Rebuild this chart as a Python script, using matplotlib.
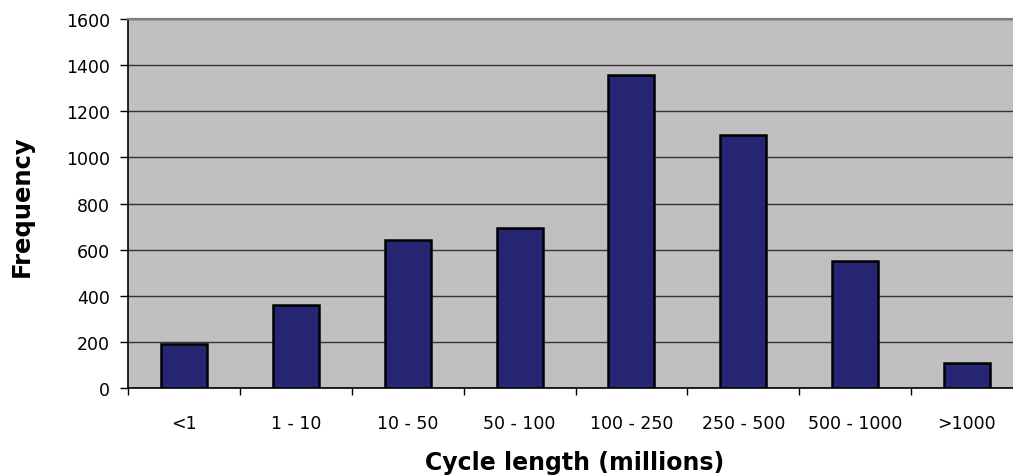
import matplotlib
matplotlib.use("Agg")
import matplotlib.pyplot as plt
import numpy as np

categories = ["<1", "1 - 10", "10 - 50", "50 - 100", "100 - 250", "250 - 500", "500 - 1000", ">1000"]
frequency = [189, 358, 642, 692, 1357, 1099, 551, 107]
y_ticks = [0, 200, 400, 600, 800, 1000, 1200, 1400, 1600]

plt.rcParams["font.family"] = ["DejaVu Sans"]

W, H = 1013, 477
fig = plt.figure(figsize=(W / 100, H / 100), dpi=100)
# plot area runs slightly past the right edge of the figure
left, right, top, bottom = 128.3, 1022.7, 20, 389
ax = fig.add_axes([left / W, (H - bottom) / H, (right - left) / W, (bottom - top) / H])
ax.set_facecolor("#C0C0C0")

x = np.arange(len(categories))
ax.bar(x, frequency, width=0.41, color="#262672", edgecolor="black", linewidth=1.8, zorder=3)

ax.set_xlim(-0.5, len(categories) - 0.5)
ax.set_ylim(0, 1600)
ax.set_yticks(y_ticks)
ax.set_yticklabels([str(v) for v in y_ticks], fontsize=12.5)
ax.yaxis.grid(True, color="#333333", linewidth=1.0, zorder=1)
ax.set_axisbelow(True)

# category labels centred in each slot, tick marks at slot boundaries
ax.set_xticks(np.arange(len(categories) + 1) - 0.5)
ax.set_xticklabels([])
ax.set_xticks(x, minor=True)
ax.set_xticklabels(categories, minor=True, fontsize=12.5)
ax.tick_params(axis="x", which="minor", length=0, pad=19)
ax.tick_params(axis="x", which="major", length=5, width=1, direction="out")
ax.tick_params(axis="y", length=6, width=1, direction="out", pad=7)

ax.spines["right"].set_visible(False)
ax.spines["top"].set_color("#808080")
ax.spines["top"].set_linewidth(1.6)
ax.spines["left"].set_linewidth(1.2)
ax.spines["bottom"].set_linewidth(1.2)

fig.text(575 / W, 1 - 463 / H, "Cycle length (millions)", fontsize=17,
         fontweight="bold", ha="center", va="center")
fig.text(22 / W, 1 - 206 / H, "Frequency", fontsize=17.5, fontweight="bold",
         ha="center", va="center", rotation=90)

fig.savefig("out.png", dpi=100, facecolor="white")
